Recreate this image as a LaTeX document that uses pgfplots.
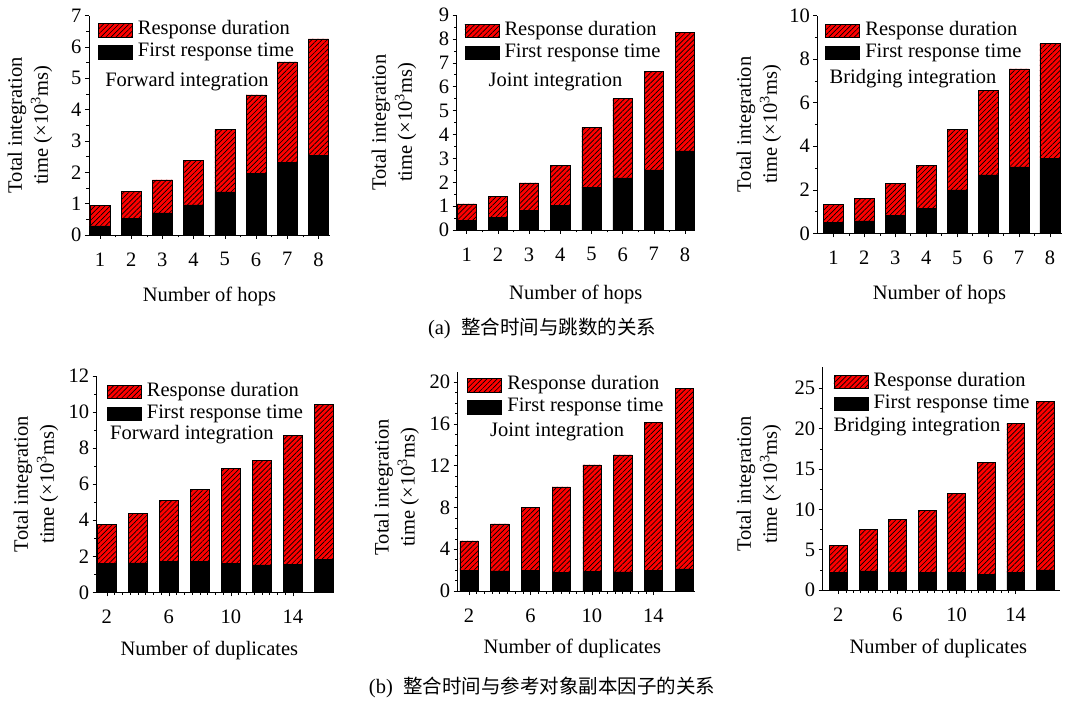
\documentclass[border=0pt]{standalone}
\usepackage{fontspec}
\setmainfont{Liberation Serif}
\newfontfamily\cjk{Noto Sans CJK SC}
\usepackage{pgfplots}
\pgfplotsset{compat=1.18}
\usetikzlibrary{patterns.meta}
\newcommand\fs{\fontsize{20.5}{26}\selectfont}
\pgfplotsset{
  myax/.style={
    scale only axis,
    axis lines=left,
    axis line style={-, line width=0.6pt},
    ybar stacked,
    ymin=0,
    enlarge x limits=false,
    tick align=outside,
    xtick pos=bottom, ytick pos=left,
    major tick length=4pt, minor tick length=2.5pt,
    tick style={black, line width=0.5pt},
    tick label style={font=\fs},
    label style={font=\fs},
    xticklabel style={yshift=-10pt},
    /pgf/number format/assume math mode=true,
    legend cell align=left,
    reverse legend,
    legend image code/.code={\draw[##1, line width=0.5pt] (0pt,-6.6pt) rectangle (34pt,6.6pt); \path (38pt,0pt);},
    legend style={draw=none, fill=none, font=\fs, anchor=north west, inner sep=0pt, row sep=2pt,
      nodes={inner sep=1.5pt, text height=13pt, text depth=4pt}},
    ylabel={Total integration\\time (×10\textsuperscript{3}ms)},
    ylabel style={align=center, anchor=center},
    xlabel style={anchor=center},
  },
  blk/.style={fill=black, draw=black, line width=0.5pt},
  hat/.style={fill=red, draw=black, line width=0.5pt,
    postaction={pattern={Lines[angle=45,distance=3.6pt,line width=0.65pt]},pattern color=black}},
}
\begin{document}
\begin{tikzpicture}
\useasboundingbox (0,0) rectangle (1066pt,-703pt);
% ---------- (a) Forward
\begin{axis}[myax, at={(89pt,-235pt)}, anchor=south west, width=241pt, height=219.3pt,
  xmin=0.65, xmax=8.37, ymax=7, bar width=20pt,
  xtick={1,...,8}, minor x tick num=1, ytick={0,...,7}, minor y tick num=1,
  legend style={at={(axis description cs:0.036,0.98)}},
  ylabel style={at={(axis description cs:-0.245,0.5)}},
  xlabel={Number of hops}, xlabel style={at={(axis description cs:0.5,0)}, yshift=-61pt}]
\addplot[blk] coordinates {(1,0.29) (2,0.54) (3,0.71) (4,0.96) (5,1.38) (6,1.96) (7,2.31) (8,2.55)};
\addplot[hat] coordinates {(1,0.65) (2,0.86) (3,1.05) (4,1.43) (5,1.99) (6,2.51) (7,3.22) (8,3.71)};
\legend{First response time, Response duration}
\node[anchor=west, font=\fs] at (axis description cs:0.053,0.699) {Forward integration};
\end{axis}
% ---------- (a) Joint
\begin{axis}[myax, at={(456.7pt,-230pt)}, anchor=south west, width=238.3pt, height=215pt,
  xmin=0.68, xmax=8.32, ymax=9, bar width=19.3pt,
  xtick={1,...,8}, minor x tick num=1, ytick={0,...,9}, minor y tick num=1,
  legend style={at={(axis description cs:0.032,0.973)}},
  ylabel style={at={(axis description cs:-0.263,0.5)}},
  xlabel={Number of hops}, xlabel style={at={(axis description cs:0.5,0)}, yshift=-64pt}]
\addplot[blk] coordinates {(1,0.39) (2,0.54) (3,0.81) (4,1.03) (5,1.77) (6,2.18) (7,2.52) (8,3.31)};
\addplot[hat] coordinates {(1,0.70) (2,0.86) (3,1.16) (4,1.68) (5,2.53) (6,3.32) (7,4.12) (8,4.97)};
\legend{First response time, Response duration}
\node[anchor=west, font=\fs] at (axis description cs:0.119,0.690) {Joint integration};
\end{axis}
% ---------- (a) Bridging
\begin{axis}[myax, at={(817.3pt,-233.3pt)}, anchor=south west, width=244.4pt, height=217.7pt,
  xmin=0.48, xmax=8.38, ymax=10, bar width=20pt,
  xtick={1,...,8}, minor x tick num=1, ytick={0,2,...,10}, minor y tick num=1,
  legend style={at={(axis description cs:0.032,0.977)}},
  ylabel style={at={(axis description cs:-0.239,0.5)}},
  xlabel={Number of hops}, xlabel style={at={(axis description cs:0.5,0)}, yshift=-61pt}]
\addplot[blk] coordinates {(1,0.49) (2,0.57) (3,0.84) (4,1.16) (5,1.99) (6,2.68) (7,3.05) (8,3.43)};
\addplot[hat] coordinates {(1,0.84) (2,1.02) (3,1.47) (4,1.96) (5,2.79) (6,3.89) (7,4.50) (8,5.28)};
\legend{First response time, Response duration}
\node[anchor=west, font=\fs] at (axis description cs:0.036,0.712) {Bridging integration};
\end{axis}
% ---------- (b) Forward
\begin{axis}[myax, at={(96.7pt,-592.3pt)}, anchor=south west, width=237.3pt, height=216.3pt,
  xmin=1.35, xmax=16.65, ymax=12, bar width=19.3pt,
  xtick={2,6,10,14}, minor x tick num=7, ytick={0,2,...,12}, minor y tick num=1,
  legend style={at={(axis description cs:0.042,0.974)}},
  ylabel style={at={(axis description cs:-0.256,0.5)}},
  xlabel={Number of duplicates}, xlabel style={at={(axis description cs:0.5,0)}, yshift=-58pt, xshift=-6pt}]
\addplot[blk] coordinates {(2,1.61) (4,1.63) (6,1.70) (8,1.70) (10,1.59) (12,1.52) (14,1.53) (16,1.83)};
\addplot[hat] coordinates {(2,2.14) (4,2.73) (6,3.38) (8,4.01) (10,5.29) (12,5.80) (14,7.19) (16,8.59)};
\legend{First response time, Response duration}
\node[anchor=west, font=\fs] at (axis description cs:0.042,0.727) {Forward integration};
\end{axis}
% ---------- (b) Joint
\begin{axis}[myax, at={(457.7pt,-591pt)}, anchor=south west, width=237.3pt, height=219.3pt,
  xmin=1.27, xmax=16.7, ymax=21, bar width=18.3pt,
  xtick={2,6,10,14}, minor x tick num=7, ytick={0,4,...,20}, minor y tick num=3,
  legend style={at={(axis description cs:0.040,0.985)}},
  ylabel style={at={(axis description cs:-0.257,0.473)}},
  xlabel={Number of duplicates}, xlabel style={at={(axis description cs:0.5,0)}, yshift=-57pt, xshift=-4pt}]
\addplot[blk] coordinates {(2,2.01) (4,1.92) (6,2.01) (8,1.79) (10,1.85) (12,1.82) (14,1.95) (16,2.11)};
\addplot[hat] coordinates {(2,2.78) (4,4.50) (6,5.98) (8,8.18) (10,10.23) (12,11.22) (14,14.18) (16,17.28)};
\legend{First response time, Response duration}
\node[anchor=west, font=\fs] at (axis description cs:0.122,0.726) {Joint integration};
\end{axis}
% ---------- (b) Bridging
\begin{axis}[myax, at={(822.7pt,-590pt)}, anchor=south west, width=237.3pt, height=222.7pt,
  xmin=0.94, xmax=17.0, ymax=27.6, bar width=17.7pt,
  xtick={2,6,10,14}, minor x tick num=7, ytick={0,5,...,25}, minor y tick num=1,
  legend style={at={(axis description cs:0.045,0.980)}},
  ylabel style={at={(axis description cs:-0.269,0.476)}},
  xlabel={Number of duplicates}, xlabel style={at={(axis description cs:0.5,0)}, yshift=-58pt, xshift=-3pt}]
\addplot[blk] coordinates {(2,2.23) (4,2.36) (6,2.23) (8,2.23) (10,2.23) (12,1.98) (14,2.23) (16,2.48)};
\addplot[hat] coordinates {(2,3.31) (4,5.20) (6,6.49) (8,7.60) (10,9.71) (12,13.81) (14,18.39) (16,20.91)};
\legend{First response time, Response duration}
\node[anchor=west, font=\fs] at (axis description cs:0.031,0.733) {Bridging integration};
\end{axis}
% ---------- captions
\node[font=\fs] at (542pt,-328pt) {(a)\hspace{0.5em}{\cjk\fontsize{19.5}{24}\selectfont 整合时间与跳数的关系}};
\node[font=\fs] at (542pt,-687pt) {(b)\hspace{0.5em}{\cjk\fontsize{19.5}{24}\selectfont 整合时间与参考对象副本因子的关系}};
\end{tikzpicture}
\end{document}
